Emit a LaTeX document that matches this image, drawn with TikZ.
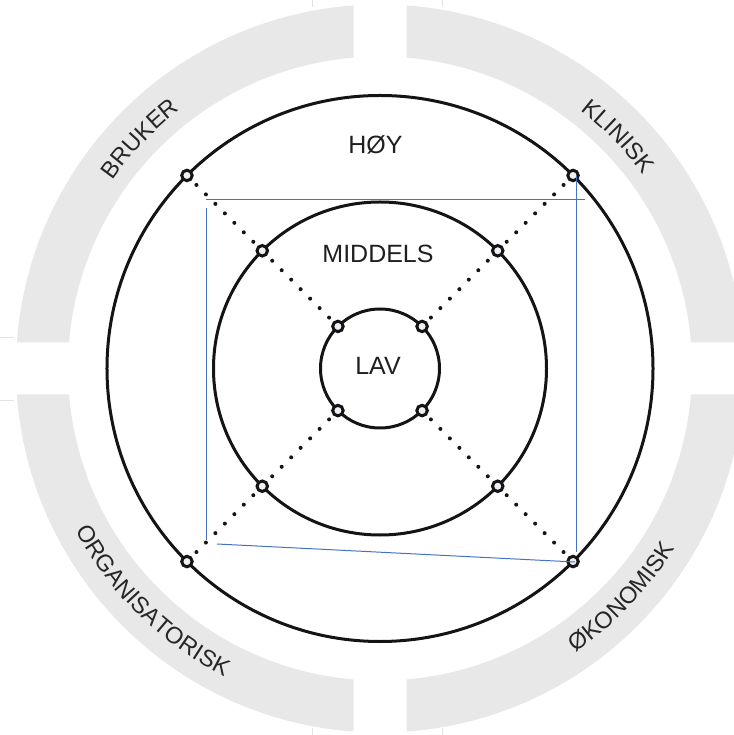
\documentclass[tikz,border=0pt]{standalone}
\usepackage{fontspec}
\setmainfont{Liberation Sans}
\usetikzlibrary{decorations.text,backgrounds}

\definecolor{ringgray}{RGB}{232,232,232}
\definecolor{ringtext}{RGB}{38,38,38}
\definecolor{jointfill}{RGB}{238,240,246}
\definecolor{guideblue}{RGB}{68,114,196}
\definecolor{faint}{RGB}{226,226,226}

\newcommand{\ringfont}{\fontsize{23.5}{28}\selectfont}

\tikzstyle{level}   = [circle, draw=black!92, line width=3pt, inner sep=0pt, outer sep=0pt]
\tikzstyle{joint}   = [circle, draw=black!92, fill=jointfill, line width=3pt, minimum size=10.5pt, inner sep=0pt]
\tikzstyle{dotline} = [draw=black!92, line width=4pt, line cap=round, dash pattern=on 0pt off 13.4pt]
\tikzstyle{lbl}     = [font=\fontsize{25}{30}\selectfont, text=black!88, inner sep=0pt]
\tikzstyle{arclbl}  = [decorate, decoration={text along path, text align=center, text color=ringtext}]
\tikzstyle{guide}   = [draw=guideblue, line width=1pt]

\begin{document}
\begin{tikzpicture}[x=1pt, y=1pt]
  \useasboundingbox (-380,-366.5) rectangle (353,368.5);

  % grey ring with four parts
  \fill[ringgray, even odd rule] (0,0) circle[radius=364pt] (0,0) circle[radius=312pt];
  \fill[white] (-26.5,300) rectangle (26.5,370) (-26.5,-300) rectangle (26.5,-370)
               (-385,-26) rectangle (-300,26) (300,-26) rectangle (360,26);
  \draw[faint] (-68,368.5) -- (-68,361) (62,368.5) -- (62,361)
               (-68,-366.5) -- (-68,-359) (62,-366.5) -- (62,-359)
               (-380,31.5) -- (-366,31.5) (-380,-31.5) -- (-366,-31.5);

  \path[arclbl, decoration={text={|\ringfont|BRUKER}}]
    (176.3:327pt) arc[start angle=176.3, end angle=96.3, radius=327pt];
  \path[arclbl, decoration={text={|\ringfont|KLINISK}}]
    (84.3:327pt) arc[start angle=84.3, end angle=4.3, radius=327pt];
  \path[arclbl, decoration={text={|\ringfont|ORGANISATORISK}}]
    (185.6:345pt) arc[start angle=185.6, end angle=265.6, radius=345pt];
  \path[arclbl, decoration={text={|\ringfont|ØKONOMISK}}]
    (276.6:345pt) arc[start angle=276.6, end angle=356.6, radius=345pt];

  % levels
  \node[level, minimum size=546pt] (high) at (0,0) {};
  \node[level, minimum size=333pt] (mid)  at (0,0) {};
  \node[level, minimum size=119pt] (low)  at (0,0) {};

  \node[lbl] (hoy)     at (-4.5,224) {HØY};
  \node[lbl] (middels) at (-2,115)   {MIDDELS};
  \node[lbl] (lav)     at (-2,2.7)   {LAV};

  \foreach \a [count=\i] in {45,135,225,315} {
    \node[joint] (h\i) at (high.\a) {};
    \node[joint] (m\i) at (mid.\a)  {};
    \node[joint] (l\i) at (low.\a)  {};
  }
  \begin{scope}[on background layer]
    \foreach \i in {1,...,4}
      \draw[dotline] (h\i.center) -- (m\i.center) -- (l\i.center);
  \end{scope}

  % blue frame lines
  \coordinate (topL) at (-174,168.5);  \coordinate (topR) at (205,168.5);
  \coordinate (lftT) at (-173.5,160.5); \coordinate (lftB) at (-173.5,-171.5);
  \coordinate (rgtT) at (196.7,193.5);  \coordinate (rgtB) at (196.7,-183.5);
  \coordinate (botL) at (-163,-175.5);  \coordinate (botR) at (195,-193.5);
  \draw[guide] (topL) -- (topR);
  \draw[guide] (lftT) -- (lftB);
  \draw[guide] (rgtT) -- (rgtB);
  \draw[guide] (botL) -- (botR);
\end{tikzpicture}
\end{document}
